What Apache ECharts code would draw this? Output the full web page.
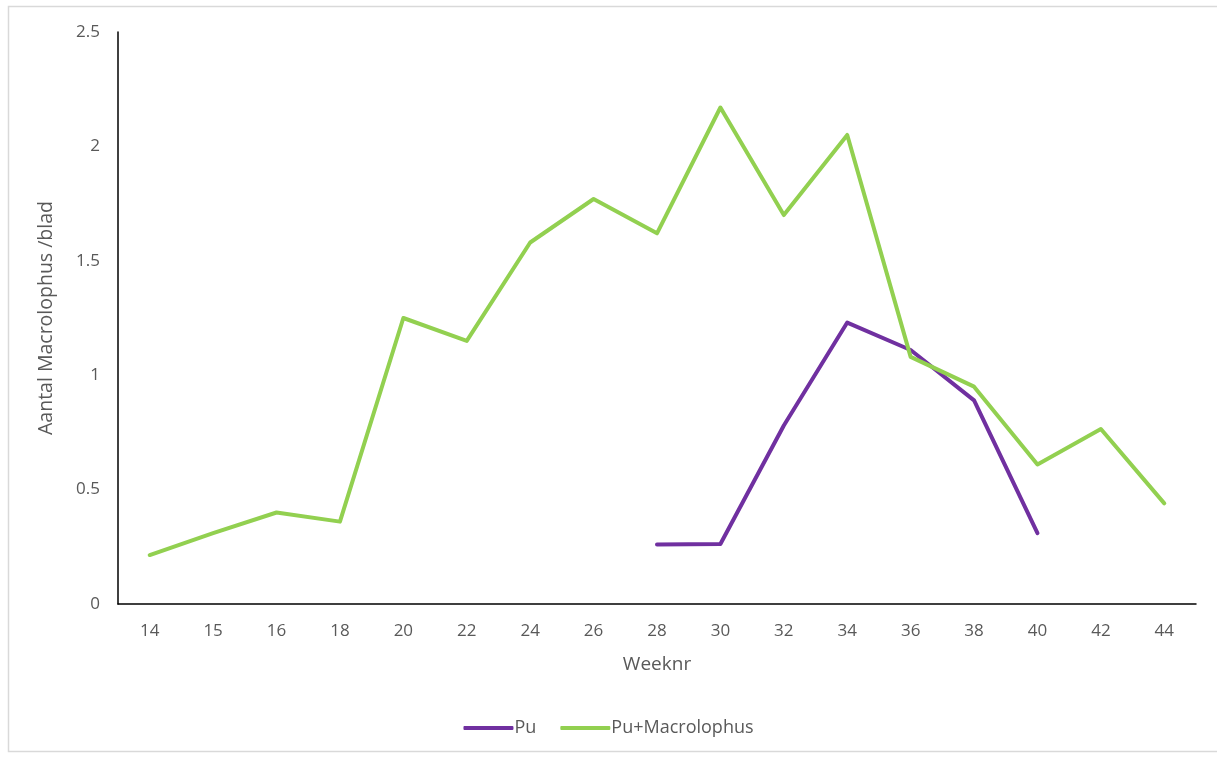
<!DOCTYPE html>
<html>
<head>
<meta charset="utf-8">
<script src="https://cdn.jsdelivr.net/npm/echarts@6/dist/echarts.min.js"></script>
<style>
  html, body { margin: 0; padding: 0; background: #fff; }
  #chart { width: 1217px; height: 757px; }
</style>
</head>
<body>
<div id="chart"></div>
<script>
// Week numbers on the category axis
const weeks = ['14', '15', '16', '18', '20', '22', '24', '26', '28', '30', '32', '34', '36', '38', '40', '42', '44'];

// Macrolophus per leaf, Pu only (recorded from week 28 to 40)
const puValues = [null, null, null, null, null, null, null, null, 0.26, 0.262, 0.78, 1.23, 1.11, 0.89, 0.31, null, null];

// Macrolophus per leaf, Pu + Macrolophus
const puMacroValues = [0.214, 0.31, 0.40, 0.36, 1.25, 1.15, 1.58, 1.77, 1.62, 2.17, 1.70, 2.05, 1.08, 0.95, 0.61, 0.765, 0.44];

const yTicks = { min: 0, max: 2.5, interval: 0.5 };

const font = '"Open Sans", Lato, sans-serif';
const chart = echarts.init(document.getElementById('chart'));

chart.setOption({
  animation: false,
  textStyle: { fontFamily: font },
  graphic: [{
    type: 'rect',
    shape: { x: 8.5, y: 6.5, width: 1220, height: 745 },
    style: { fill: 'none', stroke: '#d9d9d9', lineWidth: 1.5 },
    silent: true
  }],
  grid: { left: 118, right: 21, top: 32, bottom: 153 },
  legend: {
    bottom: 15,
    left: 'center',
    itemWidth: 50,
    itemHeight: 4,
    itemGap: 24,
    icon: 'roundRect',
    textStyle: { color: '#595959', fontSize: 18, fontFamily: font, padding: [0, 0, 0, -4] },
    data: ['Pu', 'Pu+Macrolophus']
  },
  xAxis: {
    type: 'category',
    data: weeks,
    boundaryGap: true,
    name: 'Weeknr',
    nameLocation: 'middle',
    nameGap: 51,
    nameTextStyle: { color: '#595959', fontSize: 19, fontFamily: font },
    axisLine: { lineStyle: { color: '#000', width: 1.5 } },
    axisTick: { show: false },
    axisLabel: { color: '#595959', fontSize: 17, margin: 19, fontFamily: font }
  },
  yAxis: {
    type: 'value',
    min: yTicks.min,
    max: yTicks.max,
    interval: yTicks.interval,
    name: 'Aantal Macrolophus /blad',
    nameLocation: 'middle',
    nameGap: 62,
    nameTextStyle: { color: '#595959', fontSize: 19.5, fontFamily: font },
    axisLine: { show: true, lineStyle: { color: '#000', width: 1.5 } },
    axisTick: { show: false },
    splitLine: { show: false },
    axisLabel: { color: '#595959', fontSize: 17, margin: 18, fontFamily: font }
  },
  series: [
    {
      name: 'Pu',
      type: 'line',
      data: puValues,
      symbol: 'none',
      connectNulls: false,
      lineStyle: { color: '#7030A0', width: 4, cap: 'round', join: 'round' },
      itemStyle: { color: '#7030A0' }
    },
    {
      name: 'Pu+Macrolophus',
      type: 'line',
      data: puMacroValues,
      symbol: 'none',
      lineStyle: { color: '#92D050', width: 4, cap: 'round', join: 'round' },
      itemStyle: { color: '#92D050' }
    }
  ]
});
</script>
</body>
</html>
